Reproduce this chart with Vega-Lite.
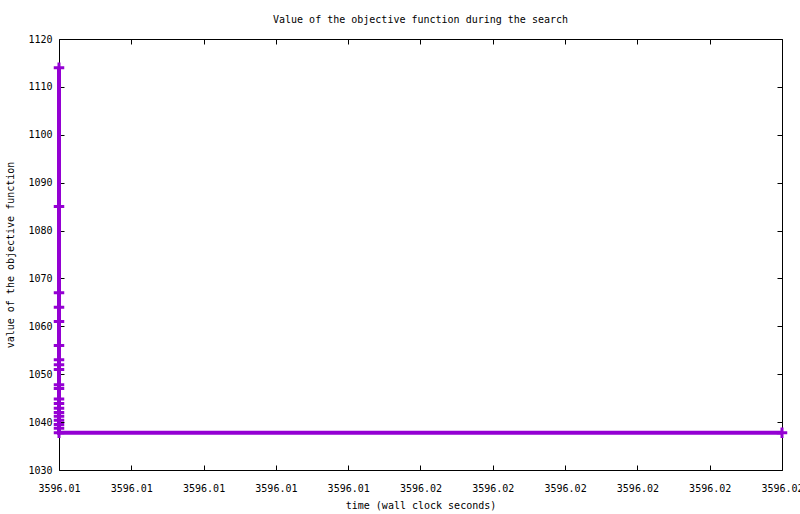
{
  "$schema": "https://vega.github.io/schema/vega-lite/v6.json",
  "autosize": {"type": "none"},
  "width": 723,
  "height": 431,
  "padding": {"left": 59, "top": 39, "right": 18, "bottom": 44},
  "background": "white",
  "title": {
    "text": "Value of the objective function during the search",
    "font": "DejaVu Sans Mono",
    "fontSize": 10,
    "fontWeight": "normal",
    "color": "black",
    "offset": 9,
    "anchor": "middle"
  },
  "config": {
    "view": {"stroke": null},
    "axis": {
      "labelFont": "DejaVu Sans Mono",
      "labelFontSize": 10,
      "labelColor": "black",
      "labelFlush": false,
      "labelOverlap": false,
      "titleFont": "DejaVu Sans Mono",
      "titleFontSize": 10,
      "titleFontWeight": "normal",
      "titleColor": "black",
      "domainColor": "black",
      "domainWidth": 1,
      "tickColor": "black",
      "tickSize": -5,
      "grid": false
    }
  },
  "data": {
    "values": [
      {"step": 1, "time": 3596.0100, "value": 1114},
      {"step": 2, "time": 3596.0100, "value": 1085},
      {"step": 3, "time": 3596.0100, "value": 1067},
      {"step": 4, "time": 3596.0100, "value": 1064},
      {"step": 5, "time": 3596.0100, "value": 1061},
      {"step": 6, "time": 3596.0100, "value": 1056},
      {"step": 7, "time": 3596.0100, "value": 1053},
      {"step": 8, "time": 3596.0100, "value": 1052},
      {"step": 9, "time": 3596.0100, "value": 1051},
      {"step": 10, "time": 3596.0100, "value": 1047.8},
      {"step": 11, "time": 3596.0100, "value": 1047},
      {"step": 12, "time": 3596.0100, "value": 1044.8},
      {"step": 13, "time": 3596.0100, "value": 1043.9},
      {"step": 14, "time": 3596.0100, "value": 1042.9},
      {"step": 15, "time": 3596.0100, "value": 1042},
      {"step": 16, "time": 3596.0100, "value": 1041.2},
      {"step": 17, "time": 3596.0100, "value": 1040.4},
      {"step": 18, "time": 3596.0100, "value": 1039.5},
      {"step": 19, "time": 3596.0100, "value": 1038.7},
      {"step": 20, "time": 3596.0100, "value": 1037.8},
      {"step": 21, "time": 3596.0200, "value": 1037.8}
    ]
  },
  "layer": [
    {
      "mark": {
        "type": "line",
        "color": "#9400D3",
        "strokeWidth": 4,
        "clip": false,
        "point": {
          "shape": "M-1,0L1,0M0,-1L0,1",
          "filled": false,
          "color": "#9400D3",
          "strokeWidth": 3,
          "size": 110,
          "opacity": 1
        }
      },
      "encoding": {
        "x": {
          "field": "time",
          "type": "quantitative",
          "scale": {"domain": [3596.01, 3596.02], "nice": false, "zero": false},
          "axis": {
            "title": "time (wall clock seconds)",
            "values": [3596.010, 3596.011, 3596.012, 3596.013, 3596.014, 3596.015, 3596.016, 3596.017, 3596.018, 3596.019, 3596.020],
            "labelExpr": "datum.value < 3596.0149 ? '3596.01' : '3596.02'",
            "labelPadding": 18,
            "titlePadding": 7
          }
        },
        "y": {
          "field": "value",
          "type": "quantitative",
          "scale": {"domain": [1030, 1120], "nice": false, "zero": false},
          "axis": {
            "title": "value of the objective function",
            "values": [1030, 1040, 1050, 1060, 1070, 1080, 1090, 1100, 1110, 1120],
            "format": "d",
            "labelPadding": 12,
            "titlePadding": 12
          }
        },
        "order": {"field": "step"}
      }
    },
    {
      "mark": {"type": "rule", "opacity": 0},
      "encoding": {
        "x": {
          "field": "time",
          "type": "quantitative",
          "axis": {"orient": "top", "title": null, "labels": false, "values": [3596.010, 3596.011, 3596.012, 3596.013, 3596.014, 3596.015, 3596.016, 3596.017, 3596.018, 3596.019, 3596.020]}
        },
        "y": {
          "field": "value",
          "type": "quantitative",
          "axis": {"orient": "right", "title": null, "labels": false, "values": [1030, 1040, 1050, 1060, 1070, 1080, 1090, 1100, 1110, 1120]}
        }
      }
    }
  ],
  "resolve": {"axis": {"x": "independent", "y": "independent"}}
}
